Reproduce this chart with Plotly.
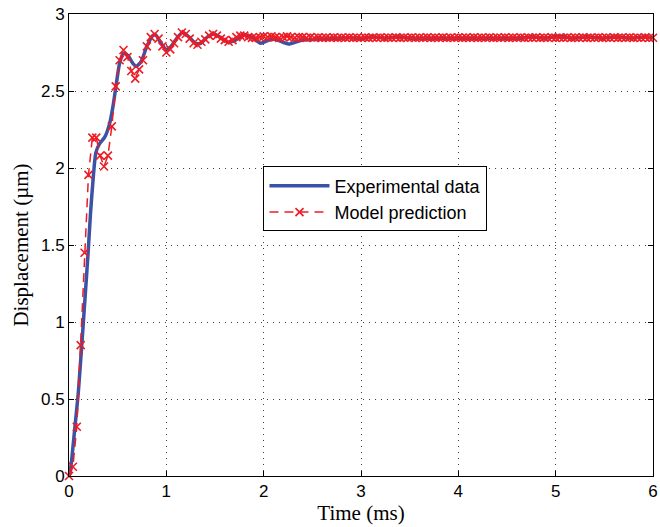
import numpy as np
import plotly.graph_objects as go

# Experimental data (blue)
exp_t = [0.0, 0.01, 0.03, 0.061, 0.095, 0.13, 0.163, 0.197, 0.221, 0.248, 0.276, 0.316, 0.367,
         0.418, 0.452, 0.487, 0.52, 0.561, 0.605, 0.656, 0.69, 0.74, 0.80, 0.86, 0.89, 0.946,
         1.0, 1.05, 1.116, 1.17, 1.235, 1.30, 1.354, 1.42, 1.49, 1.575, 1.64, 1.71, 1.80,
         1.88, 1.97, 2.05, 2.12, 2.255, 2.39, 2.53, 2.7, 2.9, 3.0, 3.12, 3.25, 3.38, 3.5,
         3.7, 3.9, 4.1, 4.3, 4.5, 4.65, 4.75, 4.88, 5.03, 5.18, 5.32, 5.47, 5.62, 5.78,
         5.93, 6.0]
exp_y = [0.0, 0.017, 0.12, 0.32, 0.537, 0.84, 1.14, 1.456, 1.706, 1.93, 2.1, 2.16, 2.2,
         2.29, 2.4, 2.55, 2.68, 2.745, 2.73, 2.68, 2.66, 2.69, 2.79, 2.86, 2.865, 2.81,
         2.77, 2.79, 2.85, 2.88, 2.85, 2.81, 2.81, 2.85, 2.87, 2.84, 2.815, 2.83, 2.865,
         2.85, 2.81, 2.83, 2.835, 2.805, 2.83, 2.835, 2.84, 2.845, 2.84, 2.852, 2.842, 2.852,
         2.842, 2.843, 2.842, 2.843, 2.842, 2.842, 2.843, 2.853, 2.843, 2.855, 2.843, 2.853,
         2.843, 2.853, 2.843, 2.853, 2.845]

# Model prediction (red), sampled every 0.04 ms
model_t = [round(0.04 * i, 2) for i in range(151)]
model_y = [0.0, 0.06, 0.32, 0.85, 1.45, 1.955, 2.197, 2.197, 2.08, 2.01,
           2.08, 2.27, 2.53, 2.70, 2.766, 2.72, 2.63, 2.58, 2.64, 2.70,
           2.79, 2.85, 2.87, 2.84, 2.79, 2.75, 2.77, 2.81, 2.85, 2.88,
           2.87, 2.84, 2.81, 2.80, 2.82, 2.835, 2.86, 2.87, 2.86, 2.84,
           2.83, 2.82, 2.83, 2.85, 2.86, 2.86, 2.85, 2.845, 2.845, 2.85,
           2.855, 2.85, 2.855, 2.85, 2.845, 2.85, 2.855, 2.85, 2.845, 2.85,
           2.85, 2.845, 2.85, 2.846, 2.848, 2.845, 2.847, 2.846, 2.848, 2.845,
           2.847, 2.846, 2.848, 2.845, 2.847, 2.846, 2.848, 2.845, 2.847, 2.846,
           2.848, 2.845, 2.847, 2.846, 2.848, 2.845, 2.847, 2.846, 2.848, 2.845,
           2.847, 2.846, 2.848, 2.845, 2.847, 2.846, 2.848, 2.845, 2.847, 2.846,
           2.848, 2.845, 2.847, 2.846, 2.848, 2.845, 2.847, 2.846, 2.848, 2.845,
           2.847, 2.846, 2.848, 2.845, 2.847, 2.846, 2.848, 2.845, 2.847, 2.846,
           2.848, 2.845, 2.847, 2.846, 2.848, 2.845, 2.847, 2.846, 2.848, 2.845,
           2.847, 2.846, 2.848, 2.845, 2.847, 2.846, 2.848, 2.845, 2.847, 2.846,
           2.848, 2.845, 2.847, 2.846, 2.848, 2.845, 2.847, 2.846, 2.848, 2.845,
           2.846]

x_ticks = [0, 1, 2, 3, 4, 5, 6]
y_ticks = [0, 0.5, 1, 1.5, 2, 2.5, 3]

BLUE = "rgb(58,83,164)"
RED = "rgb(237,28,36)"

fig = go.Figure()
fig.add_trace(go.Scatter(
    x=exp_t, y=exp_y, mode="lines", name="Experimental data",
    line=dict(color=BLUE, width=3.5, shape="spline", smoothing=0.6),
))
fig.add_trace(go.Scatter(
    x=model_t, y=model_y, mode="lines+markers", name="Model prediction",
    line=dict(color=RED, width=1.5, dash="9px,6px"),
    marker=dict(symbol="x-thin-open", size=8, color=RED, line=dict(color=RED, width=1.6)),
    cliponaxis=False,
))

axis_common = dict(
    showline=True, linecolor="black", linewidth=1, mirror="allticks",
    ticks="inside", ticklen=5, tickcolor="black",
    showgrid=True, gridcolor="rgba(0,0,0,0.75)", gridwidth=1, griddash="1px,5px",
    zeroline=False, ticklabeloverflow="allow", automargin=False,
    tickfont=dict(family="Liberation Sans, Arial", size=17, color="black"),
)

fig.update_xaxes(range=[0, 6], tickvals=x_ticks, **axis_common,
                 title=dict(text="Time (ms)", standoff=4,
                            font=dict(family="Liberation Serif, Times New Roman", size=21, color="black")))
fig.update_yaxes(range=[0, 3], tickvals=y_ticks, **axis_common,
                 title=dict(text="Displacement (µm)", standoff=6,
                            font=dict(family="Liberation Serif, Times New Roman", size=21, color="black")))

fig.update_layout(
    width=660, height=527,
    margin=dict(l=69, r=7, t=14, b=51),
    paper_bgcolor="white", plot_bgcolor="white",
    showlegend=True,
    legend=dict(x=0.333, y=0.67, xanchor="left", yanchor="top",
                bgcolor="white", bordercolor="black", borderwidth=1,
                font=dict(family="Liberation Sans, Arial", size=18, color="black"),
                itemwidth=60, tracegroupgap=2),
)

fig.write_html("out.html")
